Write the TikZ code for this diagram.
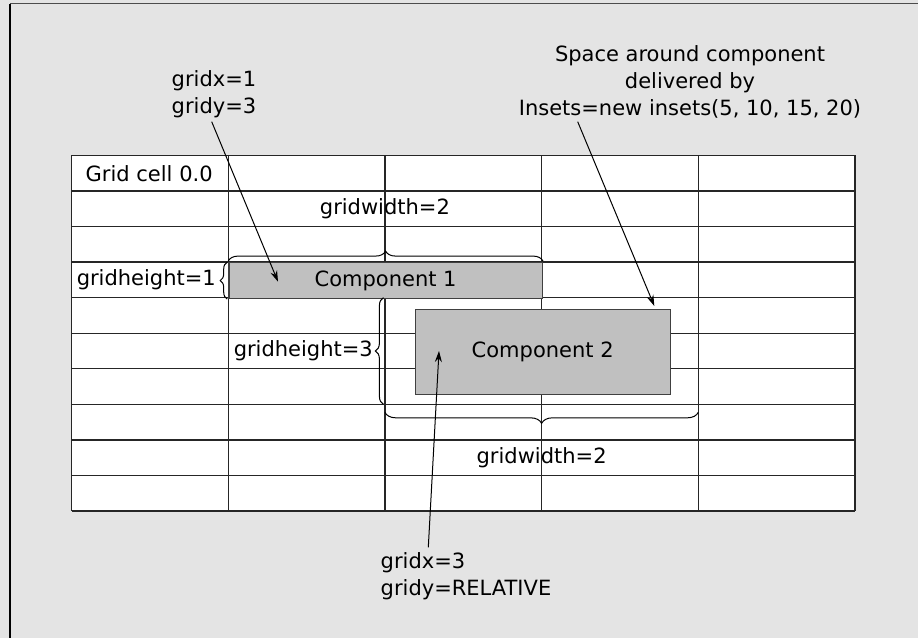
\documentclass[tikz,border=0pt]{standalone}
\usepackage{fontspec}
\setmainfont{DejaVu Sans}
\usetikzlibrary{calc, positioning, decorations.pathreplacing, arrows.meta}
\definecolor{panelgray}{HTML}{E4E4E4}
\definecolor{compgray}{HTML}{C0C0C0}

\tikzset{
  cellline/.style={line width=1.4pt, black!85},
  compbox/.style={draw=black!75, line width=1.4pt, fill=compgray,
    anchor=north west, inner sep=0pt, font=\fontsize{21}{27}\selectfont},
  lbl/.style={inner sep=0pt, font=\fontsize{21}{27}\selectfont},
  pointer/.style={-{Stealth[length=11pt,width=7pt]}, line width=1pt},
  curly/.style={decorate, decoration={brace, amplitude=#1}, line width=1pt},
}

\begin{document}
\begin{tikzpicture}[x=1pt, y=-1pt]
    % panel
    \fill[panelgray] (0,0) rectangle (918,638);
    \useasboundingbox (0,0) rectangle (918,638);
    \draw[line width=1.5pt, black!70] (10,3.5) -- (918,3.5);
    \draw[line width=1.5pt, black] (10,3.5) -- (10,638);

    % grid points
    \foreach \i in {0,...,5}
      \foreach \j in {0,...,10}
        \coordinate (g\i-\j) at ({71.5+156.7*\i},{155.4+35.56*\j});
    \fill[white] (g0-0) rectangle (g5-10);
    \foreach \i in {0,...,5}
      \draw[cellline] (g\i-0) -- (g\i-10);
    \foreach \j in {0,...,10}
      \draw[cellline] (g0-\j) -- (g5-\j);

    % components
    \node[compbox, minimum width=313.4pt, minimum height=35.56pt] (comp1) at (g1-3) {Component 1};
    \node[compbox, minimum width=255pt, minimum height=84.5pt] (comp2) at (414.5,309) {Component 2};

    % braces
    \draw[curly=10pt] ([yshift=1pt]comp1.north west) -- ([yshift=1pt]comp1.north east);
    \draw[curly=7pt] ([xshift=-1pt]comp1.south west) -- ([xshift=-1pt]comp1.north west);
    \draw[curly=8pt] ([xshift=-1.5pt]g2-7) -- ([xshift=-1.5pt]g2-4);
    \draw[curly=11pt] ([yshift=-8pt]g4-7) -- ([yshift=-8pt]g2-7);

    % labels in the grid
    \node[lbl, anchor=west] (cell00) at ($(g0-0)!0.5!(g0-1)+(14,0)$) {Grid cell 0.0};
    \node[lbl] (wtop) at ($(g2-1)!0.5!(g2-2)$) {gridwidth=2};
    \node[lbl, anchor=east] (h1) at (216,280) {gridheight=1};
    \node[lbl, anchor=east] (h3) at (373,351) {gridheight=3};
    \node[lbl] (wbot) at ($(g3-8)!0.5!(g3-9)$) {gridwidth=2};

    % notes
    \node[lbl, align=left, anchor=west] (note1) at (171.5,94.5) {gridx=1\\gridy=3};
    \node[lbl, align=center] (note2) at (690,82) {Space around component\\delivered by\\Insets=new insets(5, 10, 15, 20)};
    \node[lbl, align=left, anchor=west] (note3) at (380.5,576) {gridx=3\\gridy=RELATIVE};

    % pointers
    \coordinate (from1) at (211.7,121.7);
    \coordinate (to1) at (278,281.7);
    \coordinate (from2) at (577.7,121.7);
    \coordinate (to2) at (654.3,306);
    \coordinate (from3) at (428.3,547.3);
    \coordinate (to3) at (439,351);
    \draw[pointer] (from1) -- (to1);
    \draw[pointer] (from2) -- (to2);
    \draw[pointer] (from3) -- (to3);
\end{tikzpicture}
\end{document}
